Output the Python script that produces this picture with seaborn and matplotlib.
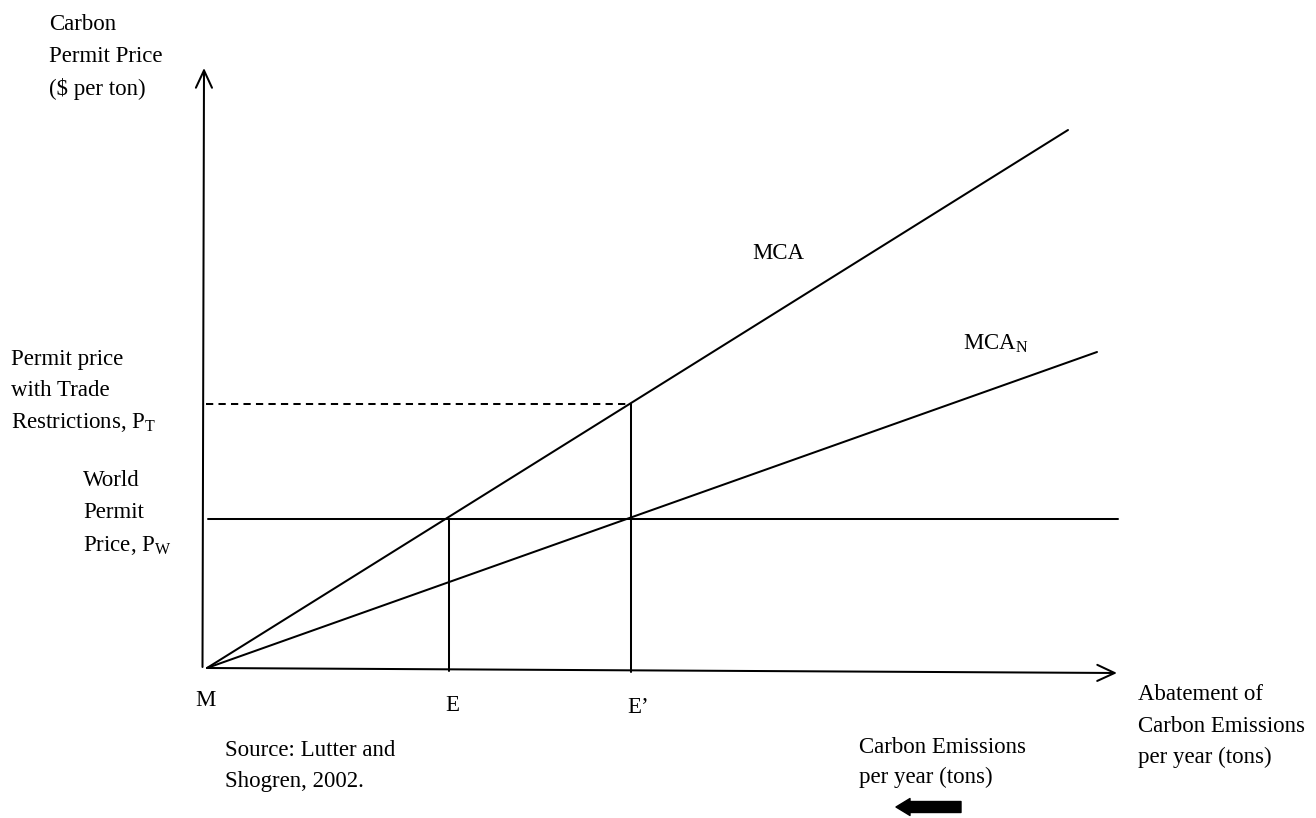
import matplotlib
matplotlib.use("Agg")
import matplotlib.pyplot as plt
import seaborn as sns

# schematic units: origin M at (0, 0)
x_axis_end = [9.10, -0.05]
y_axis_bottom = [-0.045, 0.01]
y_axis_top = [-0.03, 6.00]

mca_x = [0.0, 8.61]
mca_y = [0.0, 5.38]
mcan_x = [0.0, 8.90]
mcan_y = [0.0, 3.16]

p_w = 1.49
p_t = 2.64
pw_x = [0.01, 9.11]
pt_x = [-0.01, 4.24]

e_x = 2.42
e_prime_x = 4.24
e_bottom = -0.03
e_prime_bottom = -0.04

sns.set_theme(style="white")
plt.rcParams["font.family"] = ["Liberation Serif", "DejaVu Serif"]
plt.rcParams["text.color"] = "black"

fig = plt.figure(figsize=(13.16, 8.18), dpi=100)
ax = fig.add_axes([0, 0, 1, 1])
ax.set_xlim(-2.07, 11.09)
ax.set_ylim(-1.50, 6.68)
ax.axis("off")

lw = 1.45
kw = dict(color="black", linewidth=lw, estimator=None, sort=False, legend=False, ax=ax)

# axes with open arrow heads
arrow = dict(arrowstyle="->,head_length=12.5,head_width=5.8", mutation_scale=1,
             color="black", lw=lw, shrinkA=0, shrinkB=0)
ax.annotate("", xy=y_axis_top, xytext=y_axis_bottom, arrowprops=arrow)
ax.annotate("", xy=x_axis_end, xytext=[0, 0], arrowprops=arrow)

# marginal cost of abatement curves
sns.lineplot(x=mca_x, y=mca_y, **kw)
sns.lineplot(x=mcan_x, y=mcan_y, **kw)

# price levels
sns.lineplot(x=pw_x, y=[p_w, p_w], **kw)
sns.lineplot(x=pt_x, y=[p_t, p_t], linestyle=(0, (3.6, 2.6)), **kw)

# abatement levels
sns.lineplot(x=[e_x, e_x], y=[e_bottom, p_w], **kw)
sns.lineplot(x=[e_prime_x, e_prime_x], y=[e_prime_bottom, p_t], **kw)

# emissions direction arrow
ax.arrow(7.54, -1.39, -0.65, 0, width=0.11, head_width=0.17, head_length=0.14,
         length_includes_head=True, color="black", joinstyle="round", capstyle="round")

fs = 16.5


def label(x, y, lines, step=0.32):
    for i, s in enumerate(lines):
        ax.text(x, y - i * step, s, fontsize=fs, color="black", ha="left", va="baseline")


label(-1.58, 6.38, ["Carbon", "Permit Price", "($ per ton)"], 0.325)
label(-1.96, 3.03, ["Permit price", "with Trade", r"Restrictions, P$_{\mathregular{T}}$"], 0.315)
label(-1.24, 1.82, ["World", "Permit", r"Price, P$_{\mathregular{W}}$"], 0.325)
label(-0.12, -0.38, ["M"])
label(2.38, -0.43, ["E"])
label(4.20, -0.45, ["E\u2019"])
label(0.18, -0.88, ["Source: Lutter and", "Shogren, 2002."], 0.31)
label(6.52, -0.85, ["Carbon Emissions", "per year (tons)"], 0.30)
label(9.31, -0.32, ["Abatement of", "Carbon Emissions", "per year (tons)"], 0.315)
label(5.45, 4.09, ["MCA"])
label(7.56, 3.19, [r"MCA$_{\mathregular{N}}$"])

fig.savefig("out.png", dpi=100)
